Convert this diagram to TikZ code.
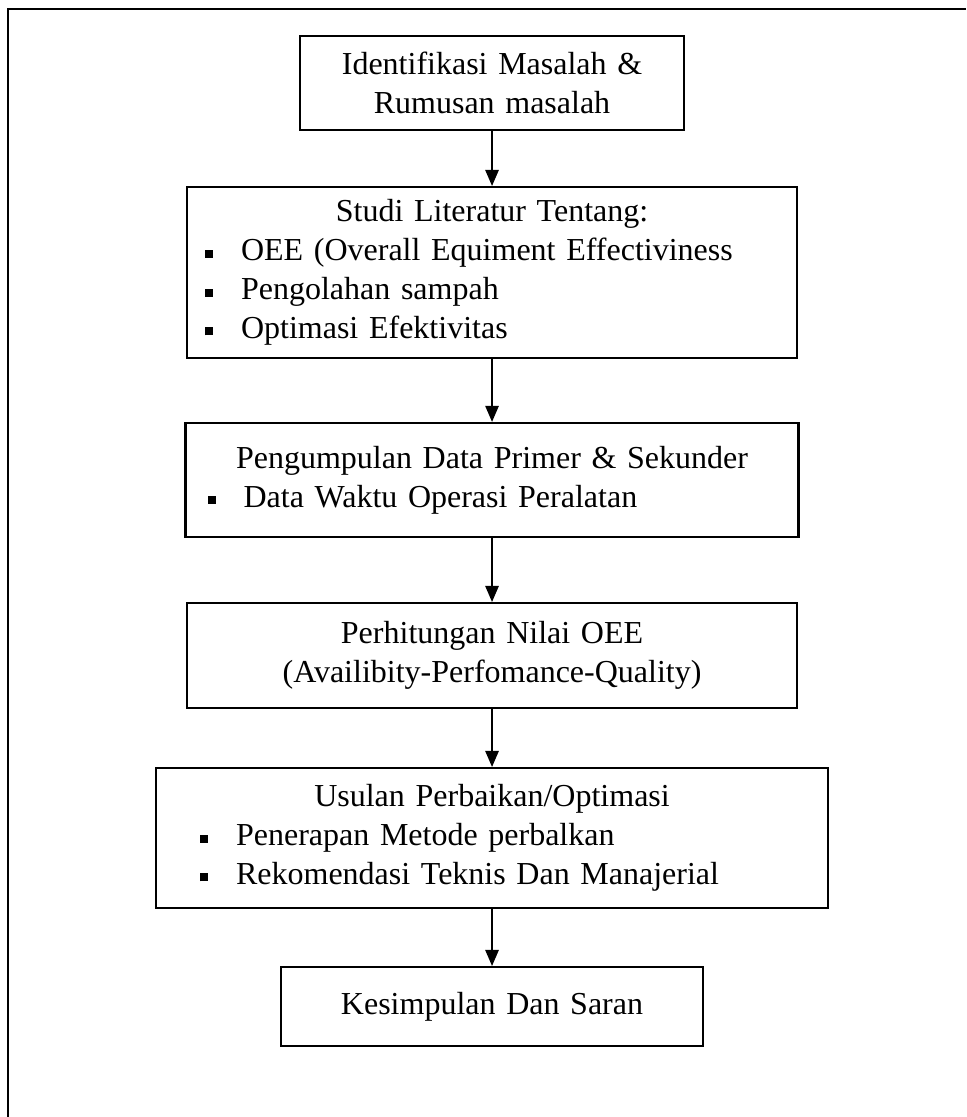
\documentclass[tikz,border=0pt]{standalone}
\usepackage{fontspec}
\setmainfont{Liberation Serif}
\usetikzlibrary{arrows.meta, positioning}

\newcommand{\sqbul}{\rule[1.2pt]{3pt}{3pt}}
\newcommand{\bulline}[2]{\makebox[\linewidth][l]{\hspace*{#1}\makebox[0.475cm][l]{\sqbul}#2}}

\begin{document}
\begin{tikzpicture}[
    stage/.style={rectangle, draw, line width=0.8pt, inner xsep=0pt, inner ysep=0pt, align=center, font=\fontsize{12}{14.6}\selectfont},
    flow/.style={-{Triangle[width=5pt, length=6pt]}, line width=0.6pt}
]
\useasboundingbox (0,0) rectangle (12.732,-14.722);

% outer frame, only left and top edge
\draw[line width=0.8pt] (0.105,-14.722) -- (0.105,-0.119) -- (12.732,-0.119);

% stages of the research flow
\node[stage, text width=5.07cm, minimum height=1.24cm] (identifikasi) at (6.485,-1.094) {Identifikasi Masalah \&\\ Rumusan masalah};
\node[stage, text width=8.04cm, minimum height=2.254cm] (studi) at (6.485,-3.592) {Studi Literatur Tentang:\\
    \bulline{0.237cm}{OEE (Overall Equiment Effectiviness}\\
    \bulline{0.237cm}{Pengolahan sampah}\\
    \bulline{0.237cm}{Optimasi Efektivitas}};
\node[stage, text width=8.08cm, minimum height=1.503cm] (pengumpulan) at (6.485,-6.326) {Pengumpulan Data Primer \& Sekunder\\
    \bulline{0.29cm}{Data Waktu Operasi Peralatan}};
\node[stage, text width=8.04cm, minimum height=1.384cm] (perhitungan) at (6.485,-8.640) {Perhitungan Nilai OEE\\ (Availibity-Perfomance-Quality)};
\node[stage, text width=8.857cm, minimum height=1.845cm] (usulan) at (6.485,-11.045) {Usulan Perbaikan/Optimasi\\
    \bulline{0.58cm}{Penerapan Metode perbalkan}\\
    \bulline{0.58cm}{Rekomendasi Teknis Dan Manajerial}};
\node[stage, text width=5.562cm, minimum height=1.041cm] (kesimpulan) at (6.485,-13.266) {Kesimpulan Dan Saran};

% arrows between stages
\draw[flow] (identifikasi) -- (studi);
\draw[flow] (studi) -- (pengumpulan);
\draw[flow] (pengumpulan) -- (perhitungan);
\draw[flow] (perhitungan) -- (usulan);
\draw[flow] (usulan) -- (kesimpulan);

\end{tikzpicture}
\end{document}
